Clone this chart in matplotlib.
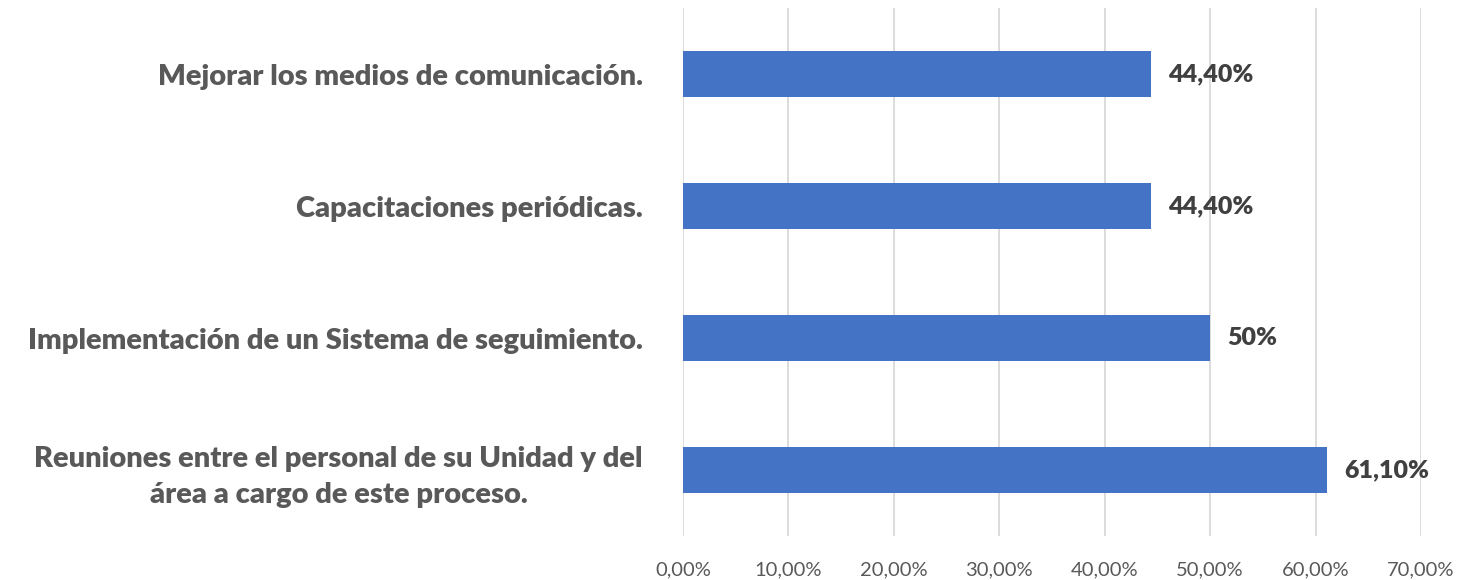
import matplotlib
matplotlib.use('Agg')
from matplotlib import pyplot as plt
from matplotlib.ticker import FuncFormatter

# data, bottom to top
categorias = ['Reuniones entre el personal de su Unidad y del\nárea a cargo de este proceso.',
              'Implementación de un Sistema de seguimiento.',
              'Capacitaciones periódicas.',
              'Mejorar los medios de comunicación.']
valores = [61.1, 50.0, 44.4, 44.4]
etiquetas = ['61,10%', '50%', '44,40%', '44,40%']
ticks_x = [0, 10, 20, 30, 40, 50, 60, 70]

plt.rcParams['font.family'] = ['Lato', 'DejaVu Sans']

fig = plt.figure(figsize=(14.6, 5.8), dpi=100)
ax = fig.add_axes([683/1460, 1-536/580, (1421-683)/1460, (536-8)/580])

y = range(len(categorias))
ax.barh(y, valores, height=0.35, color='#4472C4', zorder=3)

for i, v in enumerate(valores):
    ax.text(v + 1.6, i, etiquetas[i], va='center', ha='left',
            fontsize=18, fontweight='heavy', color='#404040')

ax.set_xlim(0, 70)
ax.set_ylim(-0.5, 3.5)
ax.set_xticks(ticks_x)
ax.xaxis.set_major_formatter(FuncFormatter(lambda x, p: ('%.2f%%' % x).replace('.', ',')))
ax.set_yticks(list(y))
ax.set_yticklabels(categorias, fontsize=21, fontweight='heavy', color='#595959',
                   multialignment='center', linespacing=1.45)
ax.tick_params(axis='y', length=0, pad=29)
ax.tick_params(axis='x', length=0, pad=18, labelsize=14.5, labelcolor='#595959')

ax.grid(axis='x', color='#D9D9D9', linewidth=1.3, zorder=0)
for s in ax.spines.values():
    s.set_visible(False)

fig.savefig('out.png', dpi=100)
